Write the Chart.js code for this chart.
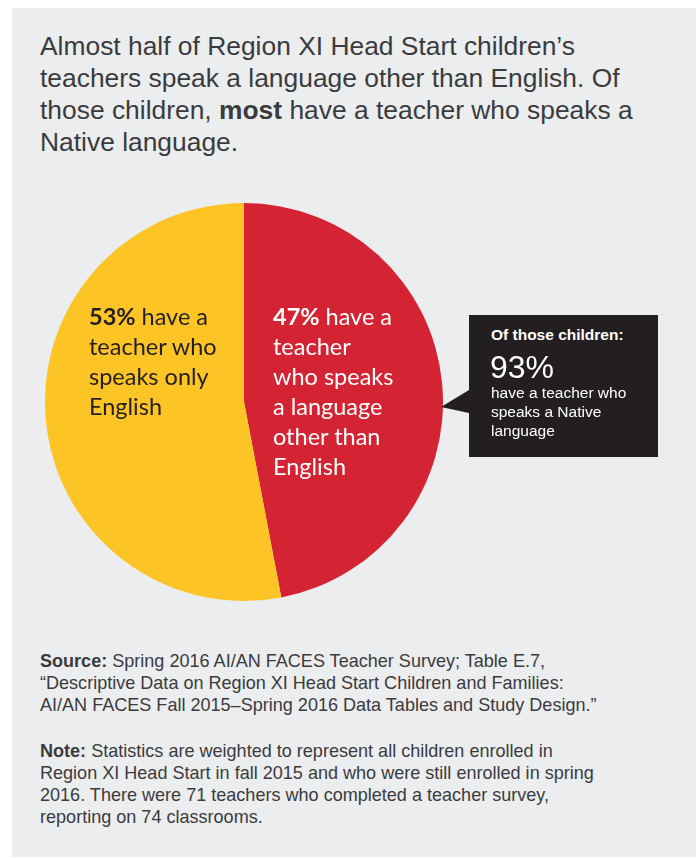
<!DOCTYPE html>
<html>
<head>
<meta charset="utf-8">
<script src="https://cdn.jsdelivr.net/npm/chart.js@4"></script>
<style>
  html, body { margin: 0; padding: 0; background: #fff; }
  #page { position: relative; width: 696px; height: 858px; overflow: hidden; }
  #panel { position: absolute; left: 12px; top: 8px; width: 684px; height: 849px; background: #ecedef; }
  #title {
    position: absolute; left: 40px; top: 30px; width: 650px; white-space: nowrap;
    font-family: "Liberation Sans", Arial, sans-serif; font-size: 26.4px; line-height: 32px;
    color: #3b3b3d;
  }
  #pieBox { position: absolute; left: 45px; top: 203px; width: 398px; height: 398px; }
  .slice {
    position: absolute; font-family: Lato, "Noto Sans", sans-serif; font-size: 23.5px; line-height: 30px;
  }
  #lblYes { left: 89px; top: 301px; color: #231f20; }
  #lblNo { left: 273px; top: 301px; color: #ffffff; }
  #callout {
    position: absolute; left: 469px; top: 315px; width: 189px; height: 142px; background: #231f20;
    color: #fff; font-family: "Liberation Sans", Arial, sans-serif;
  }
  #callout:before {
    content: ""; position: absolute; left: -28px; top: 75px;
    border-top: 17px solid transparent; border-bottom: 6px solid transparent; border-right: 28px solid #231f20;
  }
  #callout .hd { position: absolute; left: 22px; top: 11px; font-weight: bold; font-size: 15.5px; white-space: nowrap; }
  #callout .big { position: absolute; left: 21px; top: 34px; font-size: 32px; }
  #callout .sub { position: absolute; left: 22px; top: 68px; font-size: 15.5px; line-height: 19px; white-space: nowrap; }
  .foot {
    position: absolute; left: 40px; width: 700px; white-space: nowrap;
    font-family: "Liberation Sans", Arial, sans-serif; font-size: 19px; line-height: 22px;
    color: #3b3b3d; transform: scaleX(0.95); transform-origin: left top;
  }
</style>
</head>
<body>
<div id="page">
  <div id="panel"></div>
  <div id="title">Almost half of Region XI Head Start children’s<br>teachers speak a language other than English. Of<br>those children, <b>most</b> have a teacher who speaks a<br>Native language.</div>
  <div id="pieBox"><canvas id="pie" width="398" height="398"></canvas></div>
  <div class="slice" id="lblYes"><b>53%</b> have a<br>teacher who<br>speaks only<br>English</div>
  <div class="slice" id="lblNo"><b>47%</b> have a<br>teacher<br>who speaks<br>a language<br>other than<br>English</div>
  <div id="callout">
    <div class="hd">Of those children:</div>
    <div class="big">93%</div>
    <div class="sub">have a teacher who<br>speaks a Native<br>language</div>
  </div>
  <div class="foot" style="top:650px"><b>Source:</b> Spring 2016 AI/AN FACES Teacher Survey; Table E.7,<br>“Descriptive Data on Region XI Head Start Children and Families:<br>AI/AN FACES Fall 2015–Spring 2016 Data Tables and Study Design.”</div>
  <div class="foot" style="top:740px"><b>Note:</b> Statistics are weighted to represent all children enrolled in<br>Region XI Head Start in fall 2015 and who were still enrolled in spring<br>2016. There were 71 teachers who completed a teacher survey,<br>reporting on 74 classrooms.</div>
</div>
<script>
// slice order: clockwise from 12 o'clock
const categories = ['Speaks a language other than English', 'Speaks only English'];
const shares = [47, 53];
const sliceColors = ['#d42433', '#fdc426'];

new Chart(document.getElementById('pie'), {
  type: 'pie',
  data: {
    labels: categories,
    datasets: [{ data: shares, backgroundColor: sliceColors, borderWidth: 0 }]
  },
  options: {
    responsive: false,
    animation: false,
    layout: { padding: 0 },
    plugins: { legend: { display: false }, tooltip: { enabled: false } }
  }
});
</script>
</body>
</html>
